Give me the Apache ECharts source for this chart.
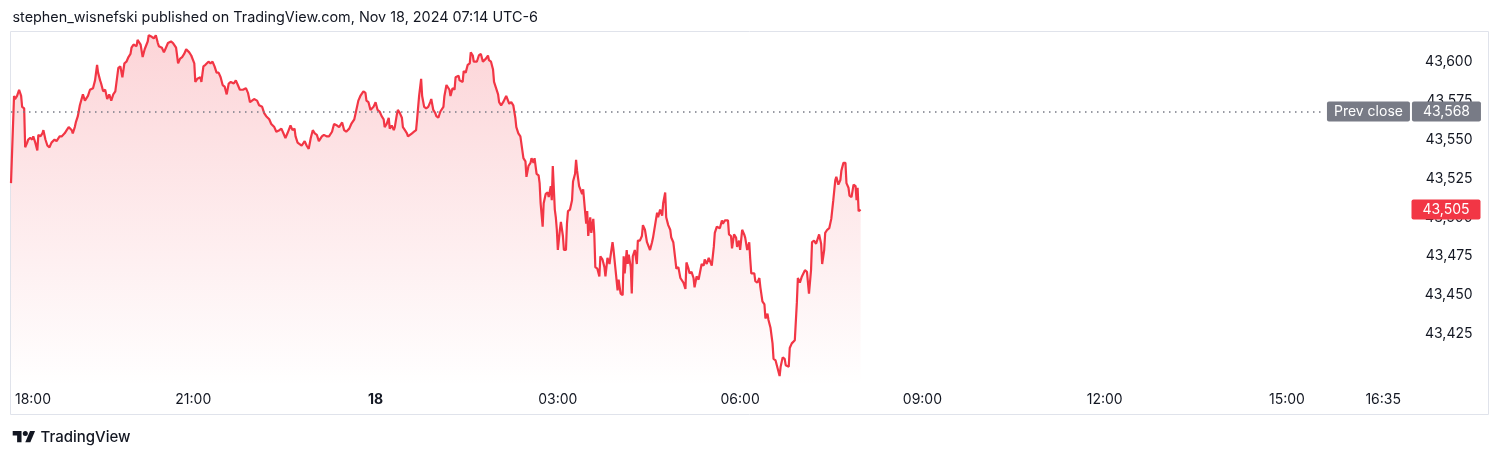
<!DOCTYPE html>
<html>
<head>
<meta charset="utf-8">
<script src="https://cdn.jsdelivr.net/npm/echarts@6/dist/echarts.min.js"></script>
<style>
  html, body { margin: 0; padding: 0; background: #ffffff; }
  #chart { width: 1500px; height: 457px; }
</style>
</head>
<body>
<div id="chart"></div>
<script>
// ---- data ----
// minutes since the 18:00 session open (Nov 17, UTC-6)
const minutesFromOpen = [
  0,3,4,6,8,10,11,13,14,16,17,19,21,22,24,26,27,29,31,32,34,36,38,40,43,45,48,50,53,55,
  57,60,61,63,64,66,68,69,71,73,76,78,81,83,85,86,88,89,91,93,95,97,99,101,103,106,108,110,112,114,
  116,118,119,121,124,125,128,130,132,135,136,139,141,143,145,
  146,149,151,153,155,158,160,163,165,167,169,171,173,176,178,181,182,184,187,188,
  190,192,195,197,199,201,203,205,207,209,211,213,215,217,220,222,224,226,229,232,
  234,236,238,240,243,245,248,250,252,255,257,260,262,265,267,269,271,273,276,278,280,281,283,
  284,287,290,292,294,296,298,300,302,304,307,309,312,314,317,319,322,324,327,329,
  331,334,336,339,341,343,345,348,350,351,353,355,358,360,362,364,366,368,369,371,
  373,374,376,378,379,381,382,384,386,387,389,391,392,394,396,398,400,401,403,405,
  406,408,410,412,414,415,417,419,420,422,424,425,427,
  428,430,433,434,436,438,439,442,443,446,447,449,451,453,454,456,457,460,462,464,
  466,467,469,471,472,474,476,477,479,481,482,484,486,487,489,490,492,494,496,498,
  499,501,503,504,506,508,509,511,513,514,516,517,519,521,522,523,525,526,528,530,
  531,533,534,535,537,538,539,540,542,543,545,546,548,549,550,552,554,555,557,558,
  559,561,562,564,565,567,568,569,570,
  572,573,575,576,577,579,581,582,584,586,587,589,591,592,594,595,597,599,600,602,
  604,605,606,608,609,610,612,613,614,616,618,619,621,623,624,626,628,629,631,633,
  634,636,638,639,641,643,644,646,647,649,651,652,654,656,657,659,661,662,664,666,
  667,669,670,672,674,675,677,679,680,682,684,685,687,689,690,692,694,695,697,698,
  700,702,703,705,
  708,709,711,712,714,716,717,719,720,722,724,725,727,729,730,731,734,735,737,739,
  740,742,744,745,747,748,750,752,753,755,757,759,760,762,764,765,768,769,771,772,
  774,776,777,779,781,782,784,786,788,790,791,793,795,796,798,800,801,803,804,806,
  808,809,810,812,814,815,817,819,820,822,824,825,827,828,830,832,834,835,836,837,839
];
const prices = [
  43522,43578,43576,43578,43582,43578,43571,43570,43545,43548,43550,43551,43550,43552,43548,43543,43553,43552,43554,43556,
  43550,43546,43545,43548,43550,43549,43552,43552,43554,43556,43558,43556,43554,43558,43561,43565,43572,43571,43579,43575,
  43578,43582,43583,43588,43598,43593,43588,43586,43581,43582,43576,43579,43575,43579,43581,43596,43597,43590,43599,43600,
  43603,43605,43609,43611,43610,43614,43611,43603,43608,43613,43617,43616,43615,43617,43612,
  43610,43609,43606,43609,43612,43613,43612,43609,43599,43602,43603,43605,43608,43606,43604,43599,43587,43589,43590,43587,
  43597,43598,43600,43599,43600,43597,43593,43593,43590,43585,43584,43579,43586,43587,43586,43588,43585,43582,43582,43583,
  43580,43574,43575,43576,43575,43572,43571,43567,43565,43563,43560,43558,43555,43556,43557,43554,43551,43554,43559,43556,
  43557,43552,43548,
  43548,43546,43549,43546,43544,43551,43556,43554,43553,43549,43552,43553,43552,43552,43555,43560,43559,43558,43561,43556,
  43555,43557,43560,43563,43569,43575,43578,43581,43580,43575,43574,43569,43571,43574,43569,43568,43565,43563,43558,43560,
  43564,43557,43559,43556,43558,43566,43569,43567,43564,43558,43556,43554,43552,43553,43554,43555,43556,43563,43578,43589,
  43578,43571,43570,43571,43574,43576,43569,43567,43565,43564,43568,43569,43571,
  43578,43585,43582,43578,43583,43582,43590,43591,43588,43587,43594,43593,43598,43599,43606,43604,43600,43600,43604,43605,
  43600,43600,43602,43604,43601,43600,43595,43587,43583,43579,43574,43572,43574,43573,43578,43578,43573,43574,43572,43564,
  43558,43554,43552,43552,43538,43536,43526,43533,43535,43538,43535,43538,43528,43527,43522,43509,43494,43509,43515,43516,
  43513,43520,43511,43533,43505,43500,43492,43479,43492,43497,43488,43479,43479,43496,43504,43505,43511,43523,43528,43537,
  43530,43520,43521,43515,43518,43503,43496,43504,43488,
  43500,43490,43499,43489,43468,43467,43462,43475,43473,43468,43462,43474,43470,43475,43484,43479,43466,43453,43460,43451,
  43450,43475,43464,43479,43470,43476,43468,43451,43475,43479,43470,43485,43485,43488,43495,43492,43484,43483,43479,43484,
  43487,43495,43503,43500,43505,43501,43509,43516,43500,43495,43492,43487,43484,43473,43467,43468,43461,43460,43458,43454,
  43471,43467,43464,43465,43461,43455,43462,43460,43461,43470,43469,43473,43470,43474,43473,43469,43481,43490,43494,43493,
  43493,43498,43496,43498,
  43498,43489,43488,43480,43489,43487,43481,43485,43479,43492,43489,43487,43479,43484,43473,43464,43464,43459,43458,43461,
  43455,43446,43444,43435,43438,43434,43429,43419,43409,43408,43403,43398,43404,43410,43409,43405,43404,43416,43419,43420,
  43421,43445,43461,43458,43462,43463,43466,43465,43451,43466,43484,43485,43483,43482,43489,43483,43470,43479,43490,43492,
  43493,43492,43499,43511,43524,43526,43521,43524,43530,43535,43535,43522,43519,43514,43513,43521,43520,43511,43519,43504,
  43505
];
const prevClose = 43568;
// time-scale tick labels (minutes since 18:00 open) and their texts
const timeTickMinutes = [0, 180, 360, 540, 720, 900, 1080, 1260, 1355];
const timeTickLabels  = ['18:00', '21:00', '18', '03:00', '06:00', '09:00', '12:00', '15:00', '16:35'];
// price-scale tick values
const priceTicks = [43425, 43450, 43475, 43500, 43525, 43550, 43575, 43600];

// ---- chart ----
const FONT = 'Inter, "Noto Sans", sans-serif';
const TEXT = '#131722';
const RED = '#F23645';
const GREY = '#787B86';
const fmt = v => String(v).replace(/\B(?=(\d{3})+(?!\d))/g, ',');

const lastPrice = prices[prices.length - 1];
const seriesData = minutesFromOpen.map((m, i) => [m, prices[i]]);

const X_MAX = 1380;            // session end (17:00)
const PREV_LINE_END = 1297.5;  // where the dotted prev-close line stops (layout)

// TradingView logo geometry (36x28 icon box), scaled into place
const LOGO_S = 0.63, LOGO_X = 12.7, LOGO_Y = 428.5;
const logoPt = p => [LOGO_X + p[0] * LOGO_S, LOGO_Y + p[1] * LOGO_S];

const badge = (bg, w) => ({
  backgroundColor: bg, color: '#ffffff', width: w, height: 20, lineHeight: 20,
  align: 'center', fontFamily: FONT, fontSize: 14, borderRadius: 2
});

const chart = echarts.init(document.getElementById('chart'), null, { renderer: 'canvas' });
chart.setOption({
  animation: false,
  backgroundColor: '#ffffff',
  textStyle: { fontFamily: FONT },
  title: {
    text: 'stephen_wisnefski published on TradingView.com, Nov 18, 2024 07:14 UTC-6',
    left: 12.5, top: 11, padding: 0,
    textStyle: { fontFamily: FONT, fontSize: 14.4, fontWeight: 'normal', color: TEXT }
  },
  grid: { left: 11, right: 91.5, top: 32, bottom: 71, containLabel: false },
  xAxis: {
    type: 'value',
    min: 0, max: X_MAX,
    axisLine: { show: false },
    axisTick: { show: false },
    splitLine: { show: false },
    axisLabel: {
      customValues: timeTickMinutes,
      margin: 6.5,
      fontFamily: FONT, fontSize: 14, color: TEXT,
      formatter: v => {
        const i = timeTickMinutes.indexOf(v);
        const t = i >= 0 ? timeTickLabels[i] : '';
        if (i === 0) return '{first|' + t + '}';
        if (t === '18') return '{bold|' + t + '}';
        return t;
      },
      rich: {
        first: { width: 80, align: 'right', fontFamily: FONT, fontSize: 14, color: TEXT },
        bold: { fontWeight: 'bold', fontFamily: FONT, fontSize: 14, color: TEXT }
      }
    }
  },
  yAxis: {
    type: 'value',
    position: 'right',
    min: 43391.6, max: 43619.1,
    axisLine: { show: false },
    axisTick: { show: false },
    splitLine: { show: false },
    axisLabel: {
      customValues: priceTicks,
      align: 'right',
      margin: 64,
      fontFamily: FONT, fontSize: 14, color: TEXT,
      formatter: v => fmt(v)
    }
  },
  series: [{
    type: 'line',
    data: seriesData,
    showSymbol: false,
    symbol: 'none',
    lineStyle: { color: RED, width: 2.2 },
    itemStyle: { color: RED },
    areaStyle: {
      origin: 'start',
      color: {
        type: 'linear', x: 0, y: 0, x2: 0, y2: 1,
        colorStops: [
          { offset: 0, color: 'rgba(242,54,69,0.30)' },
          { offset: 1, color: 'rgba(242,54,69,0.0)' }
        ]
      }
    },
    markLine: {
      silent: true,
      symbol: ['none', 'none'],
      animation: false,
      data: [
        [
          {
            coord: [0, prevClose],
            lineStyle: { color: GREY, type: [1.5, 4.5], width: 1.5 },
            label: {
              show: true, position: 'end', distance: 2,
              formatter: '{a|Prev close}{s|}{b|' + fmt(prevClose) + '}',
              rich: {
                a: badge(GREY, 83),
                s: { width: 2, height: 20, align: 'center' },
                b: badge(GREY, 69)
              }
            }
          },
          { coord: [PREV_LINE_END, prevClose] }
        ],
        [
          {
            coord: [0, lastPrice],
            lineStyle: { color: 'rgba(0,0,0,0)', width: 1, type: 'solid' },
            label: {
              show: true, position: 'end', distance: 3,
              formatter: '{b|' + fmt(lastPrice) + '}',
              rich: { b: badge(RED, 69) }
            }
          },
          { coord: [X_MAX, lastPrice] }
        ]
      ]
    }
  }],
  graphic: [
    {
      type: 'rect', z: -10, silent: true,
      shape: { x: 10.5, y: 31.5, width: 1478, height: 383 },
      style: { fill: 'none', stroke: '#E0E3EB', lineWidth: 1 }
    },
    {
      type: 'polygon', silent: true,
      shape: { points: [[14,22],[7,22],[7,11],[0,11],[0,4],[14,4]].map(logoPt) },
      style: { fill: TEXT }
    },
    {
      type: 'polygon', silent: true,
      shape: { points: [[28,22],[20,22],[27.5,4],[35.5,4]].map(logoPt) },
      style: { fill: TEXT }
    },
    {
      type: 'circle', silent: true,
      shape: { cx: logoPt([20, 8])[0], cy: logoPt([20, 8])[1], r: 4 * LOGO_S },
      style: { fill: TEXT }
    },
    {
      type: 'text', silent: true,
      x: 40.5, y: 437,
      style: { text: 'TradingView', fontFamily: FONT, fontSize: 15, fontWeight: 500, fill: TEXT, verticalAlign: 'middle' }
    }
  ]
});
</script>
</body>
</html>
